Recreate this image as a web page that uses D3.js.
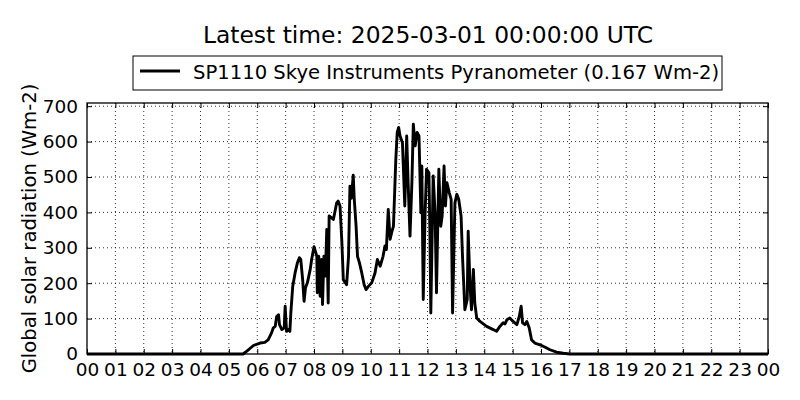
<!DOCTYPE html>
<html><head><meta charset="utf-8">
<script src="https://cdn.jsdelivr.net/npm/d3@7"></script>
<style>body{margin:0;background:#fff}svg{display:block}text{font-family:"DejaVu Sans",sans-serif;fill:#000}</style>
</head><body>
<svg id="c" width="800" height="400"></svg>
<script>
const title = "Latest time: 2025-03-01 00:00:00 UTC";
const seriesName = "SP1110 Skye Instruments Pyranometer (0.167 Wm-2)";
const yLabel = "Global solar radiation (Wm-2)";
// minutes since 00:00 UTC
const minutes = [0,320,330,338,352,366,376,383,390,394,398,401,405,407,412,417,419,422,426,429,431,435,440,445,449,452,456,459,462,466,472,475,480,483,486,487,490,493,496,498,501,504,507,510,512,521,528,531,535,539,542,549,553,556,559,563,565,569,572,576,581,586,590,595,602,609,614,620,626,630,633,637,641,644,648,651,653,656,659,662,667,672,676,679,683,687,690,694,698,702,706,708,711,715,718,723,725,727,732,736,739,744,748,751,755,758,761,766,770,773,778,782,786,791,794,799,804,806,810,813,817,820,824,831,845,859,866,873,880,884,888,894,901,909,914,918,921,926,930,935,940,947,958,969,979,993,1007,1021,1440];
const radiation = [0,0,0,8,24,31,33,40,59,74,78,106,111,83,69,74,135,64,69,64,116,191,229,258,272,267,210,149,187,201,239,267,303,290,276,173,276,163,267,140,276,220,352,144,390,380,427,432,418,314,210,196,276,474,440,505,440,361,276,258,229,196,182,191,201,229,267,248,276,305,295,408,324,342,361,474,550,626,640,616,597,418,616,484,333,484,649,588,626,616,399,531,154,399,522,512,350,116,503,399,173,522,361,390,531,418,484,456,437,116,427,451,437,390,276,125,154,347,191,125,239,144,102,92,78,69,64,78,88,85,97,102,92,83,106,135,88,83,92,74,40,31,26,19,12,5,2,0,0];
const hourTicks = d3.range(0, 25);
const hourLabels = ["00","01","02","03","04","05","06","07","08","09","10","11","12","13","14","15","16","17","18","19","20","21","22","23","00"];
const yTicks = [0,100,200,300,400,500,600,700];
const yMax = 709;

const L = 87, R = 768, T = 103, B = 354;
const svg = d3.select("#c");
const x = d3.scaleLinear().domain([0, 1440]).range([L, R]);
const y = d3.scaleLinear().domain([0, yMax]).range([B, T]);
const data = minutes.map((m, i) => ({m, v: radiation[i]}));

// grid
const g = svg.append("g");
g.selectAll(".gx").data(hourTicks.slice(1, -1)).enter().append("line")
  .attr("x1", d => x(d*60)).attr("x2", d => x(d*60)).attr("y1", T).attr("y2", B)
  .attr("stroke", "#000").attr("stroke-width", 0.8).attr("stroke-dasharray", "1,3");
g.selectAll(".gy").data(yTicks.slice(1)).enter().append("line")
  .attr("x1", L).attr("x2", R).attr("y1", d => y(d)).attr("y2", d => y(d))
  .attr("stroke", "#000").attr("stroke-width", 0.8).attr("stroke-dasharray", "1,3");

// axes
const xAxis = d3.axisBottom(x).tickValues(hourTicks.map(h => h*60)).tickFormat((d, i) => hourLabels[i]).tickSizeInner(-5).tickSizeOuter(0).tickPadding(9);
const ax = svg.append("g").attr("transform", `translate(0,${B})`).call(xAxis);
ax.select(".domain").remove();
ax.selectAll("text").attr("font-size", 18.5).attr("font-family", "DejaVu Sans").attr("fill", "#000");
const xAxisTop = d3.axisTop(x).tickValues(hourTicks.map(h => h*60)).tickFormat("").tickSizeInner(-5).tickSizeOuter(0);
const axt = svg.append("g").attr("transform", `translate(0,${T})`).call(xAxisTop);
axt.select(".domain").remove();

const yAxis = d3.axisLeft(y).tickValues(yTicks).tickSizeInner(-5).tickSizeOuter(0).tickPadding(9);
const ay = svg.append("g").attr("transform", `translate(${L},0)`).call(yAxis);
ay.select(".domain").remove();
ay.selectAll("text").attr("font-size", 18.5).attr("font-family", "DejaVu Sans").attr("fill", "#000");
const yAxisR = d3.axisRight(y).tickValues(yTicks).tickFormat("").tickSizeInner(-5).tickSizeOuter(0);
const ayr = svg.append("g").attr("transform", `translate(${R},0)`).call(yAxisR);
ayr.select(".domain").remove();

// line
const line = d3.line().x(d => x(d.m)).y(d => y(d.v));
svg.append("path").datum(data).attr("d", line).attr("fill", "none")
  .attr("stroke", "#000").attr("stroke-width", 2.9).attr("stroke-linejoin", "round");

// frame
svg.append("rect").attr("x", L).attr("y", T).attr("width", R-L).attr("height", B-T)
  .attr("fill", "none").attr("stroke", "#000").attr("stroke-width", 1.3);

// title
svg.append("text").attr("x", 428).attr("y", 43).attr("text-anchor", "middle")
  .attr("font-size", 23.4).text(title);

// legend
svg.append("rect").attr("x", 133).attr("y", 56).attr("width", 589).attr("height", 34)
  .attr("fill", "#fff").attr("stroke", "#000").attr("stroke-width", 1);
svg.append("line").attr("x1", 140).attr("x2", 180).attr("y1", 71).attr("y2", 71)
  .attr("stroke", "#000").attr("stroke-width", 2.9);
svg.append("text").attr("x", 193).attr("y", 79).attr("font-size", 19.6).text(seriesName);

// y label
svg.append("text").attr("transform", `translate(36,${(T+B)/2}) rotate(-90)`)
  .attr("text-anchor", "middle").attr("font-size", 19.6).text(yLabel);
</script>
</body></html>
